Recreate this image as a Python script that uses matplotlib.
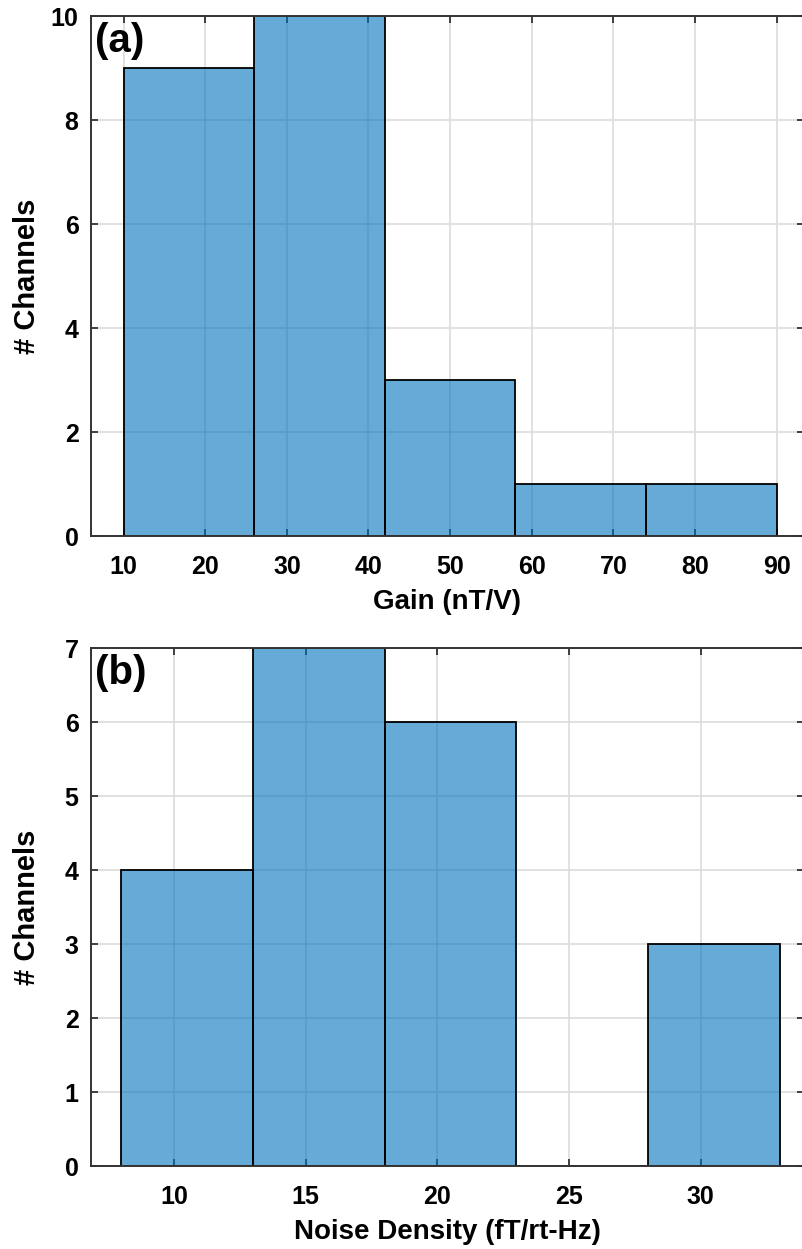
import numpy as np
import matplotlib
matplotlib.use("Agg")
import matplotlib.pyplot as plt

# histogram bins
gain_edges = [10, 26, 42, 58, 74, 90]
gain_counts = [9, 10, 3, 1, 1]
noise_edges = [8, 13, 18, 23, 28, 33]
noise_counts = [4, 7, 6, 0, 3]

gain_ticks = [10, 20, 30, 40, 50, 60, 70, 80, 90]
gain_yticks = [0, 2, 4, 6, 8, 10]
noise_ticks = [10, 15, 20, 25, 30]
noise_yticks = [0, 1, 2, 3, 4, 5, 6, 7]

plt.rcParams["font.family"] = ["Liberation Sans", "DejaVu Sans"]
plt.rcParams["font.weight"] = "bold"

W, H = 802, 1249
fig = plt.figure(figsize=(W / 100, H / 100), dpi=100)

# right spine sits just past the cropped edge, as in the reference
ax1 = fig.add_axes([91 / W, 1 - 536 / H, 712.5 / W, 520 / H])
ax2 = fig.add_axes([91 / W, 1 - 1166 / H, 712.5 / W, 518 / H])

spine_col = "#333333"


def draw_hist(ax, edges, counts, xlim, ylim, xticks, yticks, xlabel, tag):
    edges = np.array(edges)
    ax.bar(edges[:-1], counts, width=np.diff(edges), align="edge",
           color=(0.0, 0.447, 0.741, 0.6), edgecolor="black", linewidth=1.3, zorder=2)
    ax.set_xlim(*xlim)
    ax.set_ylim(*ylim)
    ax.set_xticks(xticks)
    ax.set_yticks(yticks)
    ax.grid(True, color="#dcdcdc", linewidth=1.2, zorder=0)
    ax.set_axisbelow(True)
    ax.tick_params(axis="both", direction="in", length=5, width=1.3, colors=spine_col,
                   top=True, right=True, labelsize=18, labelcolor="black")
    ax.tick_params(axis="x", pad=14)
    ax.tick_params(axis="y", pad=9)
    for s in ax.spines.values():
        s.set_color(spine_col)
        s.set_linewidth(1.4)
    ax.set_xlabel(xlabel, fontsize=20, fontweight="bold", labelpad=7)
    ax.set_ylabel("# Channels", fontsize=21, fontweight="bold")
    ax.yaxis.set_label_coords(-0.07, 0.5)
    ax.text(0.006, 0.988, tag, transform=ax.transAxes, fontsize=29,
            fontweight="bold", ha="left", va="top")


draw_hist(ax1, gain_edges, gain_counts, (6.0, 93.3), (0, 10),
          gain_ticks, gain_yticks, "Gain (nT/V)", "(a)")
draw_hist(ax2, noise_edges, noise_counts, (6.85, 33.9), (0, 7),
          noise_ticks, noise_yticks, "Noise Density (fT/rt-Hz)", "(b)")

fig.savefig("out.png", dpi=100)
